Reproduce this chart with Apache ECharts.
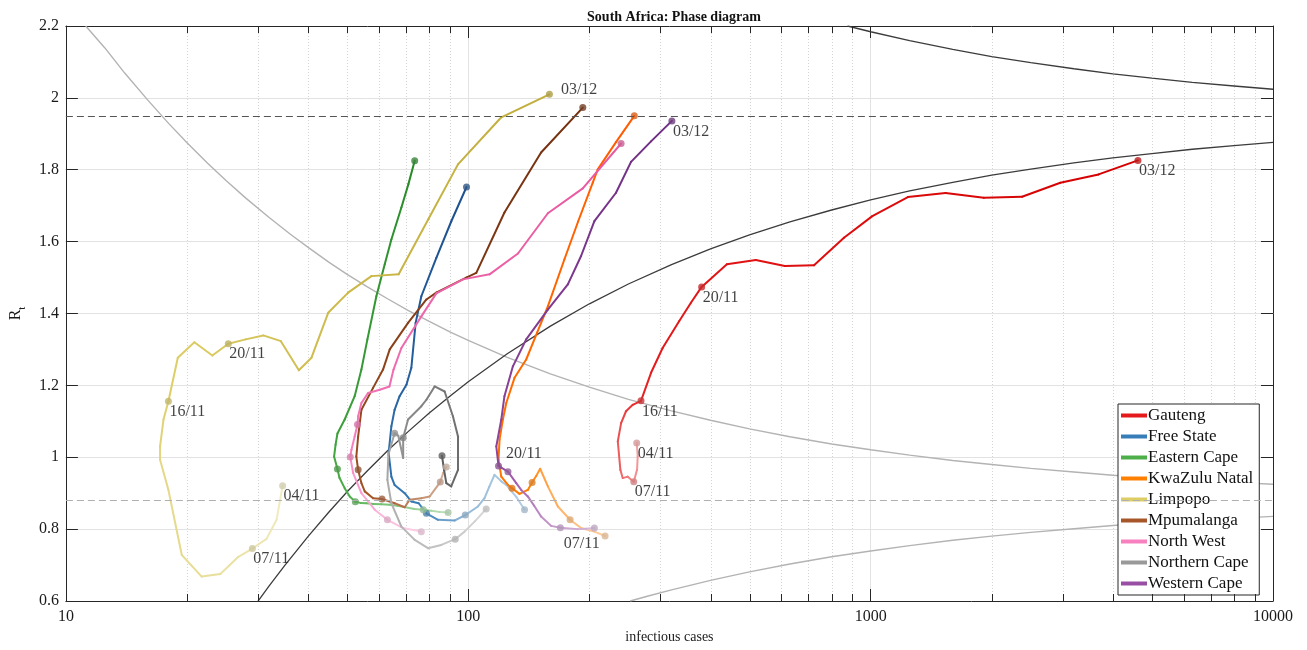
<!DOCTYPE html>
<html><head><meta charset="utf-8">
<script src="https://cdn.jsdelivr.net/npm/echarts@6/dist/echarts.min.js"></script>
<style>html,body{margin:0;padding:0;background:#fff}#c{width:1307px;height:650px}</style>
</head><body><div id="c"></div>
<script>
// ---------------- data ----------------
const dateDays = {'04/11':0,'07/11':3,'16/11':12,'20/11':16,'03/12':29};
const xTicks = [10,100,1000,10000];
const yTicks = [0.6,0.8,1,1.2,1.4,1.6,1.8,2,2.2];
const minorX = [20,30,40,50,60,70,80,90,200,300,400,500,600,700,800,900,2000,3000,4000,5000,6000,7000,8000,9000];

const gauteng = [[262.2,1.040],[263.7,1.002],[262.7,0.965],[257.8,0.932],[249.1,0.946],[242.0,0.942],[238.8,0.965],[235.3,1.044],[239.8,1.095],[246.6,1.128],[256.3,1.146],[268.7,1.157],[284.6,1.235],[304.1,1.304],[334.5,1.379],[357.6,1.430],[380.2,1.474],[439.3,1.537],[518.3,1.549],[611.9,1.532],[723.3,1.534],[858.5,1.611],[1009.7,1.671],[1237.5,1.724],[1535.4,1.735],[1910.5,1.722],[2378.7,1.725],[2961.2,1.764],[3685.2,1.787],[4616.5,1.826]];
const gautengMarks = [0,3,11,16,29];
const gautengMarkDates = ['04/11','07/11','16/11','20/11','03/12'];

const freeState = [[138.0,0.854],[131.6,0.890],[124.3,0.923],[120.8,0.933],[116.2,0.951],[112.8,0.918],[109.75,0.886],[105.7,0.863],[98.3,0.839],[92.5,0.824],[84.1,0.826],[78.7,0.844],[75.3,0.872],[72.2,0.877],[69.5,0.900],[65.6,0.923],[64.4,0.946],[63.4,1.012],[64.4,1.086],[65.6,1.132],[67.5,1.170],[70.2,1.202],[72.2,1.249],[74.0,1.374],[76.45,1.448],[83.3,1.555],[90.7,1.656],[99.0,1.752]];
const freeStateMarks = [0,8,11,27];
const freeStateMarkDates = ['04/11','07/11','16/11','03/12'];

const easternCape = [[89.1,0.846],[84.7,0.848],[80.9,0.851],[77.3,0.854],[73.5,0.856],[69.8,0.861],[66.7,0.865],[63.7,0.868],[60.8,0.869],[58.1,0.870],[55.8,0.872],[53.95,0.873],[52.4,0.876],[50.75,0.891],[49.3,0.914],[47.85,0.943],[47.3,0.967],[46.4,1.002],[46.8,1.035],[47.3,1.066],[49.3,1.105],[52.2,1.170],[54.25,1.244],[56.15,1.328],[59.1,1.448],[62.0,1.537],[64.4,1.606],[68.2,1.695],[71.0,1.760],[73.6,1.825]];
const easternCapeMarks = [0,3,12,16,29];
const easternCapeMarkDates = ['04/11','07/11','16/11','20/11','03/12'];

const kwaZulu = [[218.8,0.781],[205.8,0.793],[190.7,0.803],[179.1,0.826],[167.0,0.863],[157.7,0.919],[150.9,0.968],[147.5,0.948],[144.1,0.930],[140.6,0.909],[134.1,0.898],[128.4,0.914],[125.5,0.923],[120.8,0.946],[118.9,0.993],[119.6,1.049],[121.9,1.105],[124.3,1.151],[130.3,1.221],[139.3,1.272],[148.3,1.347],[157.7,1.420],[173.4,1.551],[187.5,1.656],[203.9,1.764],[209.8,1.801],[232.9,1.877],[258.6,1.950]];
const kwaZuluMarks = [0,3,8,11,27];
const kwaZuluMarkDates = ['04/11','07/11','16/11','20/11','03/12'];

const limpopo = [[34.56,0.921],[33.39,0.826],[31.53,0.773],[29.07,0.746],[26.83,0.723],[24.20,0.675],[21.75,0.668],[19.41,0.728],[17.98,0.909],[17.14,0.993],[17.14,1.030],[17.48,1.105],[17.98,1.156],[18.97,1.277],[20.86,1.320],[23.12,1.283],[25.33,1.316],[27.97,1.328],[30.94,1.339],[34.22,1.323],[37.93,1.242],[40.77,1.277],[44.86,1.402],[50.29,1.458],[57.45,1.504],[67.14,1.509],[79.56,1.662],[94.28,1.815],[120.8,1.946],[159.1,2.010]];
const limpopoMarks = [0,3,12,16,29];
const limpopoMarkDates = ['04/11','07/11','16/11','20/11','03/12'];

const mpumalanga = [[88.2,0.973],[86.6,0.956],[85.2,0.931],[80.2,0.891],[76.45,0.886],[71.5,0.882],[69.5,0.861],[65.6,0.872],[61.05,0.884],[58.0,0.886],[55.3,0.905],[54.25,0.928],[53.25,0.965],[52.7,1.002],[53.25,1.058],[54.25,1.132],[58.0,1.193],[61.4,1.244],[63.8,1.300],[70.85,1.374],[78.7,1.439],[83.3,1.458],[98.85,1.500],[104.7,1.513],[123.0,1.681],[151.7,1.848],[192.6,1.973]];
const mpumalangaMarks = [0,2,8,12,26];
const mpumalangaMarkDates = ['04/11','07/11','16/11','20/11','03/12'];

const northWest = [[76.45,0.793],[68.9,0.803],[62.95,0.826],[58.55,0.854],[54.25,0.900],[51.75,0.956],[50.9,1.001],[51.25,1.021],[52.2,1.058],[53.05,1.091],[53.25,1.114],[54.25,1.151],[56.4,1.179],[60.25,1.188],[63.7,1.197],[65.2,1.244],[68.2,1.304],[76.45,1.392],[83.3,1.456],[97.0,1.495],[112.95,1.509],[132.9,1.567],[157.7,1.679],[192.6,1.748],[239.8,1.873]];
const northWestMarks = [0,2,6,9,24];
const northWestMarkDates = ['04/11','07/11','16/11','20/11','03/12'];

const northernCape = [[110.8,0.856],[104.1,0.823],[97.9,0.793],[92.8,0.772],[85.7,0.756],[79.4,0.747],[73.6,0.770],[68.2,0.807],[64.4,0.872],[62.95,0.937],[63.3,1.007],[65.6,1.067],[67.0,1.060],[68.9,0.998],[68.9,1.054],[70.85,1.105],[76.45,1.142],[78.7,1.160],[82.5,1.197],[87.35,1.183],[91.6,1.114],[94.3,1.058],[94.3,0.965],[90.7,0.919],[88.2,0.928],[87.05,0.965],[86.05,1.004]];
const northernCapeMarks = [0,3,11,14,26];
const northernCapeMarkDates = ['04/11','07/11','16/11','20/11','03/12'];

const westernCape = [[205.8,0.803],[196.3,0.801],[187.2,0.800],[169.4,0.804],[160.7,0.809],[151.7,0.835],[145.8,0.865],[140.6,0.891],[135.4,0.909],[131.6,0.928],[125.5,0.960],[120.8,0.971],[118.9,0.976],[117.4,1.030],[120.8,1.105],[123.0,1.170],[129.1,1.253],[139.3,1.328],[157.7,1.411],[176.8,1.481],[190.7,1.560],[205.8,1.657],[232.9,1.736],[253.8,1.822],[284.6,1.879],[320.7,1.936]];
const westernCapeMarks = [0,3,10,12,25];
const westernCapeMarkDates = ['04/11','07/11','16/11','20/11','03/12'];

// reference curves
const darkUpper = [[876,2.2],[1000,2.184],[1250,2.159],[1600,2.135],[2000,2.115],[2500,2.098],[3200,2.081],[4000,2.067],[5000,2.055],[6300,2.043],[8000,2.033],[10000,2.024]];
const darkLower = [[30,0.599],[32,0.642],[35,0.699],[40,0.780],[45,0.847],[50,0.904],[56,0.961],[63,1.018],[71,1.072],[80,1.123],[90,1.170],[100,1.210],[125,1.288],[160,1.365],[200,1.427],[250,1.482],[320,1.536],[400,1.580],[500,1.619],[630,1.655],[800,1.688],[1000,1.716],[1250,1.741],[1600,1.765],[2000,1.785],[2500,1.802],[3200,1.819],[4000,1.833],[5000,1.845],[6300,1.857],[8000,1.867],[10000,1.876]];
const lightUpper = [[11.2,2.2],[12.5,2.139],[14,2.069],[16,1.993],[18,1.929],[20,1.875],[22.5,1.818],[25,1.770],[28,1.721],[32,1.667],[36,1.622],[40,1.584],[45,1.543],[50,1.509],[56,1.475],[63,1.441],[71,1.408],[80,1.378],[90,1.349],[100,1.325],[125,1.278],[160,1.232],[200,1.195],[250,1.161],[320,1.129],[400,1.103],[500,1.079],[630,1.057],[800,1.037],[1000,1.021],[1250,1.006],[1600,0.991],[2000,0.980],[2500,0.969],[3200,0.959],[4000,0.950],[5000,0.943],[6300,0.936],[8000,0.930],[10000,0.925]];
const lightLower = [[252.6,0.6],[280,0.614],[320,0.631],[360,0.645],[400,0.6575],[450,0.670],[500,0.681],[630,0.703],[800,0.723],[1000,0.739],[1250,0.754],[1600,0.769],[2000,0.7805],[2500,0.791],[3200,0.801],[4000,0.810],[5000,0.817],[6300,0.824],[8000,0.830],[10000,0.8355]];
const thresholdHigh = 1.95;
const thresholdLow = 0.88;

const provinces = [
  {name:'Gauteng', color:'#e41a1c', end:'#d40000', data:gauteng, marks:gautengMarks, dates:gautengMarkDates, labels:['04/11','07/11','16/11','20/11','03/12']},
  {name:'Free State', color:'#377eb8', end:'#1c4f8f', data:freeState, marks:freeStateMarks, dates:freeStateMarkDates, labels:[]},
  {name:'Eastern Cape', color:'#4daf4a', end:'#268a26', data:easternCape, marks:easternCapeMarks, dates:easternCapeMarkDates, labels:[]},
  {name:'KwaZulu Natal', color:'#ff7f00', end:'#ff5a00', data:kwaZulu, marks:kwaZuluMarks, dates:kwaZuluMarkDates, labels:[]},
  {name:'Limpopo', color:'#dccd64', end:'#c2ad3c', data:limpopo, marks:limpopoMarks, dates:limpopoMarkDates, labels:['04/11','07/11','16/11','20/11','03/12']},
  {name:'Mpumalanga', color:'#a65628', end:'#75300f', data:mpumalanga, marks:mpumalangaMarks, dates:mpumalangaMarkDates, labels:[]},
  {name:'North West', color:'#f781bf', end:'#e8589f', data:northWest, marks:northWestMarks, dates:northWestMarkDates, labels:[]},
  {name:'Northern Cape', color:'#999999', end:'#5a5a5a', data:northernCape, marks:northernCapeMarks, dates:northernCapeMarkDates, labels:[]},
  {name:'Western Cape', color:'#984ea3', end:'#6c2d82', data:westernCape, marks:westernCapeMarks, dates:westernCapeMarkDates, labels:['07/11','20/11','03/12']}
];
// special label offsets (pixels, relative to marker box)
const labelOffsets = {'Limpopo|03/12':[15,-8.5],'Western Cape|20/11':[11,-16.5],'Western Cape|07/11':[7,12]};

// ---------------- helpers ----------------
const FONT = 'Liberation Serif';
function hex(h){h=h.replace('#','');return [0,2,4].map(i=>parseInt(h.substr(i,2),16));}
function mix(a,b,w){return a.map((v,i)=>Math.round(v*(1-w)+b[i]*w));}
function rgb(c){return 'rgb('+c.join(',')+')';}
function shade(p,f){
  const b=hex(p.color), e=hex(p.end);
  if(f<=0.45) return mix([255,255,255],b,0.38+0.62*f/0.45);
  return mix(b,e,(f-0.45)/0.55);
}
function fractions(p){
  const n=p.data.length, out=[];
  const days=p.dates.map(d=>dateDays[d]);
  for(let i=0;i<n;i++){
    let d=days[days.length-1];
    for(let k=0;k<p.marks.length-1;k++){
      if(i>=p.marks[k]&&i<=p.marks[k+1]){d=days[k]+(i-p.marks[k])/(p.marks[k+1]-p.marks[k])*(days[k+1]-days[k]);break;}
    }
    out.push(d/29);
  }
  return out;
}

const series=[];
// minor dotted grid
series.push({type:'custom',name:'_minorGrid',silent:true,z:1,coordinateSystem:'cartesian2d',
  data:minorX.map(v=>[v,1]),encode:{x:0,y:1},
  renderItem:(p,api)=>{const a=api.coord([api.value(0),0.6]),b=api.coord([api.value(0),2.2]);const x=Math.round(a[0])+0.5;
    return {type:'line',shape:{x1:x,y1:a[1],x2:x,y2:b[1]},style:{stroke:'#d4d4d4',lineWidth:1,lineDash:[1,2]}};}});
// reference curves
const refStyle=(c,w)=>({type:'line',smooth:false,symbol:'none',silent:true,z:2,lineStyle:{color:c,width:w}});
series.push(Object.assign(refStyle('#b3b3b3',1.4),{name:'_lu',data:lightUpper,
  markLine:{silent:true,symbol:['none','none'],label:{show:false},animation:false,
    data:[{yAxis:thresholdHigh,lineStyle:{color:'#555555',type:[7,4],width:1.2}},{yAxis:thresholdLow,lineStyle:{color:'#b0b0b0',type:[7,4],width:1.2}}]}}));
series.push(Object.assign(refStyle('#b3b3b3',1.4),{name:'_ll',data:lightLower}));
series.push(Object.assign(refStyle('#3c3c3c',1.3),{name:'_du',data:darkUpper}));
series.push(Object.assign(refStyle('#3c3c3c',1.3),{name:'_dl',data:darkLower}));

// province trajectories
const markerSeries=[];
provinces.forEach(pr=>{
  const fr=fractions(pr), d=pr.data, segs=[], cols=[];
  for(let i=0;i<d.length-1;i++){segs.push([d[i][0],d[i][1],d[i+1][0],d[i+1][1]]);cols.push(rgb(shade(pr,(fr[i]+fr[i+1])/2)));}
  series.push({type:'custom',name:pr.name,coordinateSystem:'cartesian2d',z:3,silent:true,itemStyle:{color:pr.color},
    data:segs,encode:{x:[0,2],y:[1,3]},
    renderItem:(p,api)=>{const a=api.coord([api.value(0),api.value(1)]),b=api.coord([api.value(2),api.value(3)]);
      return {type:'line',shape:{x1:a[0],y1:a[1],x2:b[0],y2:b[1]},style:{stroke:cols[p.dataIndex],lineWidth:2,lineCap:'round'}};}});
  const mdata=pr.marks.map((idx,k)=>{
    const dt=pr.dates[k], c=mix(shade(pr,fr[idx]),[110,110,110],0.25);
    const item={value:d[idx],itemStyle:{color:rgb(c)}};
    if(pr.labels.indexOf(dt)>=0){
      const off=labelOffsets[pr.name+'|'+dt]||[4.5,6];
      item.label={show:true,formatter:dt,position:off,align:'left',verticalAlign:'top',fontFamily:FONT,fontSize:16,color:'#111111'};
    }
    return item;
  });
  markerSeries.push({type:'scatter',name:pr.name+' marks',symbol:'circle',symbolSize:7,z:4,silent:true,data:mdata,label:{show:false}});
});
markerSeries.forEach(s=>series.push(s));
// minor ticks (bottom and top, inward)
series.push({type:'custom',name:'_minorTicks',silent:true,z:6,coordinateSystem:'cartesian2d',
  data:minorX.map(v=>[v,1]),encode:{x:0,y:1},
  renderItem:(p,api)=>{const a=api.coord([api.value(0),0.6]),b=api.coord([api.value(0),2.2]);const x=Math.round(a[0])+0.5;
    return {type:'group',children:[
      {type:'line',shape:{x1:x,y1:a[1],x2:x,y2:a[1]-7},style:{stroke:'#262626',lineWidth:1}},
      {type:'line',shape:{x1:x,y1:b[1],x2:x,y2:b[1]+7},style:{stroke:'#262626',lineWidth:1}}]};}});

const axisCommon={axisLine:{show:true,onZero:false,lineStyle:{color:'#262626',width:1}},axisTick:{show:true,inside:true,length:12,lineStyle:{color:'#262626'}}};
const option={
  animation:false,
  textStyle:{fontFamily:FONT},
  title:{text:'South Africa: Phase diagram',left:669,top:5,textAlign:'center',textStyle:{fontFamily:FONT,fontSize:14,fontWeight:'bold',color:'#111'}},
  grid:{left:64,right:34,top:26,bottom:49},
  legend:{data:provinces.map(p=>({name:p.name,itemStyle:{color:p.color}})),orient:'vertical',left:1118,top:404,icon:'rect',
    itemWidth:26,itemHeight:4,itemGap:4,padding:[3,6,3,3],borderColor:'#262626',borderWidth:1,backgroundColor:'#ffffff',selectedMode:false,
    textStyle:{fontFamily:FONT,fontSize:17,color:'#111',lineHeight:16.5,padding:[0,0,0,-4]}},
  xAxis:[
    Object.assign({type:'log',logBase:10,min:xTicks[0],max:xTicks[xTicks.length-1],position:'bottom',
      axisLabel:{fontFamily:FONT,fontSize:16,color:'#1a1a1a',margin:8,formatter:v=>String(Math.round(v))},
      splitLine:{show:true,lineStyle:{color:'#e2e2e2',width:1}},
      name:'infectious cases',nameLocation:'middle',nameGap:29,nameTextStyle:{fontFamily:FONT,fontSize:14,color:'#1a1a1a'}},axisCommon),
    Object.assign({type:'log',logBase:10,min:xTicks[0],max:xTicks[xTicks.length-1],position:'top',axisLabel:{show:false},splitLine:{show:false}},axisCommon)
  ],
  yAxis:[
    Object.assign({type:'value',min:yTicks[0],max:yTicks[yTicks.length-1],interval:0.2,position:'left',
      axisLabel:{fontFamily:FONT,fontSize:16,color:'#1a1a1a',margin:7},
      splitLine:{show:true,lineStyle:{color:'#e2e2e2',width:1}},
      name:'{r|R}{s|t}',nameLocation:'middle',nameGap:37,nameRotate:90,
      nameTextStyle:{rich:{r:{fontFamily:FONT,fontSize:16,color:'#1a1a1a',verticalAlign:'top'},s:{fontFamily:FONT,fontSize:11,color:'#1a1a1a',verticalAlign:'top',padding:[9,0,0,0]}}}},axisCommon),
    Object.assign({type:'value',min:yTicks[0],max:yTicks[yTicks.length-1],interval:0.2,position:'right',axisLabel:{show:false},splitLine:{show:false}},axisCommon)
  ],
  series:series
};
const chart=echarts.init(document.getElementById('c'),null,{renderer:'canvas'});
chart.setOption(option);
</script></body></html>
